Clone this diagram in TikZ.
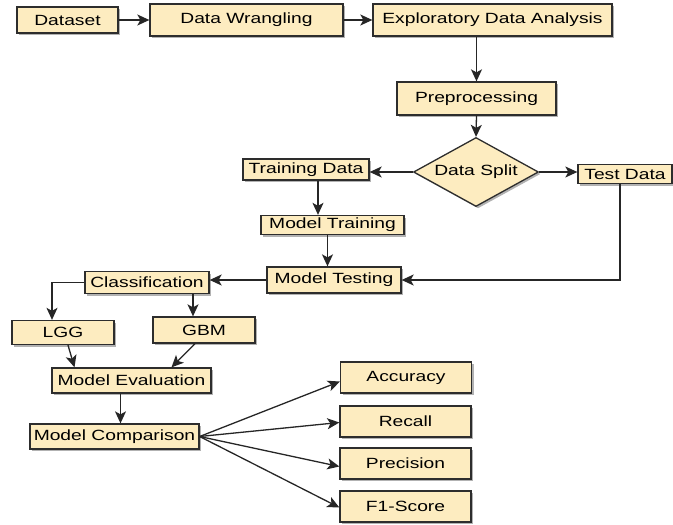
\documentclass[tikz,border=0pt]{standalone}
\usepackage{fontspec}
\setmainfont{Liberation Sans}[FakeStretch=1.3]
\usetikzlibrary{arrows.meta,shapes.geometric,shadows}
\definecolor{boxfill}{RGB}{253,236,192}
\definecolor{boxline}{RGB}{45,45,45}
\begin{document}
\begin{tikzpicture}[x=1pt,y=-1pt,
  box/.style={draw=boxline,line width=1.3pt,fill=boxfill,inner sep=0pt,
    font=\fontsize{14.8}{17}\selectfont,
    drop shadow={shadow xshift=2pt,shadow yshift=-2pt,fill=black,opacity=0.3}},
  arr/.style={-{Stealth[length=12pt,width=11pt,inset=3pt]},line width=1.3pt,draw=black!85}]
\useasboundingbox (0,0) rectangle (673,525);
% nodes
\node[box,minimum width=101pt,minimum height=26pt] (ds) at (67.5,20) {Dataset};
\node[box,minimum width=193pt,minimum height=32pt] (dw) at (246.5,20) {Data Wrangling};
\node[box,minimum width=239pt,minimum height=32pt] (eda) at (492.5,20) {Exploratory Data Analysis};
\node[box,minimum width=159pt,minimum height=33pt] (pre) at (476.5,98.5) {Preprocessing};
\node[box,diamond,minimum width=125pt,minimum height=69pt] (split) at (476,172) {\makebox[0pt]{Data Split}};
\node[box,minimum width=126pt,minimum height=21pt] (train) at (306,169.5) {Training Data};
\node[box,minimum width=94pt,minimum height=19pt] (test) at (625,174) {Test Data};
\node[box,minimum width=143pt,minimum height=19pt] (mtr) at (332.5,225) {Model Training};
\node[box,minimum width=134pt,minimum height=26pt] (mte) at (334,280) {Model Testing};
\node[box,minimum width=124pt,minimum height=22pt] (cls) at (147,282.5) {Classification};
\node[box,minimum width=102pt,minimum height=24pt] (lgg) at (63,332.5) {LGG};
\node[box,minimum width=102pt,minimum height=26pt] (gbm) at (204,330) {GBM};
\node[box,minimum width=159pt,minimum height=25pt] (me) at (131.5,380.5) {Model Evaluation};
\node[box,minimum width=169pt,minimum height=25pt] (mc) at (114.5,436.5) {Model Comparison};
\node[box,minimum width=131pt,minimum height=31pt] (acc) at (406,377.5) {Accuracy};
\node[box,minimum width=131pt,minimum height=31pt] (rec) at (405.5,421.5) {Recall};
\node[box,minimum width=131pt,minimum height=31pt] (prec) at (405.5,463.5) {Precision};
\node[box,minimum width=131pt,minimum height=31pt] (f1) at (405.5,506.5) {F1-Score};
% connectors
\draw[arr] (ds.east) -- (dw.west);
\draw[arr] (dw.east) -- (eda.west);
\draw[arr] (pre.north |- eda.south) -- (pre.north);
\draw[arr] (pre.south) -- (split.north);
\draw[arr] (split.west) -- (split.west -| train.east);
\draw[arr] (split.east) -- (split.east -| test.west);
\draw[arr] ([xshift=12pt]train.south) -- ([xshift=12pt]train.south |- mtr.north);
\draw[arr] ([xshift=-5pt]mtr.south) -- ([xshift=-5pt]mtr.south |- mte.north);
\draw[arr] ([xshift=-5pt]test.south) |- (mte.east);
\draw[arr] (mte.west) -- (mte.west -| cls.east);
\draw[arr] (cls.west) -| ([xshift=-11pt]lgg.north);
\draw[arr] ([xshift=-11pt]gbm.north |- cls.south) -- ([xshift=-11pt]gbm.north);
\draw[arr] ([xshift=5pt]lgg.south) -- ([xshift=-57pt]me.north);
\draw[arr] ([xshift=-9pt]gbm.south) -- ([xshift=40pt]me.north);
\draw[arr] ([xshift=-11pt]me.south) -- ([xshift=-11pt]me.south |- mc.north);
\draw[arr] (mc.east) -- ([yshift=-4pt]acc.west);
\draw[arr] (mc.east) -- ([yshift=-1pt]rec.west);
\draw[arr] (mc.east) -- ([yshift=-3pt]prec.west);
\draw[arr] (mc.east) -- ([yshift=-1pt]f1.west);
\end{tikzpicture}
\end{document}
